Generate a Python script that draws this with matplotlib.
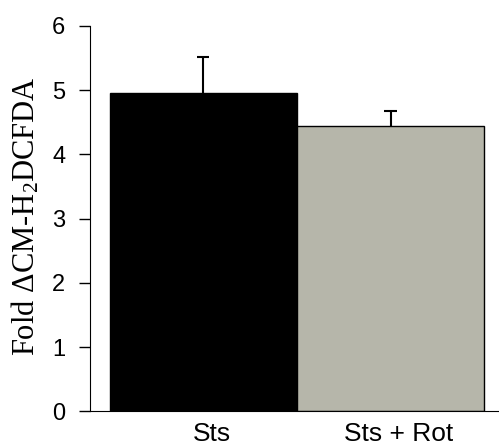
import matplotlib
matplotlib.use('Agg')
import matplotlib.pyplot as plt

# Дані
groups = ['Sts', 'Sts + Rot']
values = [4.96, 4.44]
errors = [0.55, 0.24]
colors = ['#000000', '#b6b6aa']

plt.rcParams['mathtext.fontset'] = 'custom'
plt.rcParams['mathtext.rm'] = 'Liberation Serif'
plt.rcParams['mathtext.it'] = 'Liberation Serif:italic'

fig = plt.figure(figsize=(4.99, 4.47), dpi=100)
ax = fig.add_axes([0.181, 0.080, 0.817, 0.862])

x = [0, 1]
ax.bar(x, values, width=1.0, color=colors, edgecolor='black', linewidth=1.0, zorder=2)

# тільки верхня похибка, без нижньої риски
tops = [v + e for v, e in zip(values, errors)]
ax.vlines(x, values, tops, color='black', linewidth=1.5, zorder=3)
ax.hlines(tops, [i - 0.033 for i in x], [i + 0.033 for i in x],
          color='black', linewidth=1.5, zorder=3)

ax.set_xlim(-0.603, 1.573)
ax.set_ylim(0, 6)
ax.set_yticks(range(0, 7))
# підписи трохи правіше центру стовпців, як в оригіналі
ax.set_xticks([i + 0.045 for i in x])
ax.set_xticklabels(groups, family='Liberation Sans', fontsize=19)
for lab in ax.get_yticklabels():
    lab.set_family('Liberation Sans')
    lab.set_fontsize(17)

ax.spines['top'].set_visible(False)
ax.spines['right'].set_visible(False)
ax.tick_params(axis='y', direction='out', length=8, width=1, pad=10)
ax.tick_params(axis='x', length=0, pad=8)

ax.set_ylabel('Fold \u0394CM-H$_\\mathrm{2}$DCFDA', family='Liberation Serif', fontsize=22)
ax.yaxis.set_label_coords(-0.12, 0.507)

plt.savefig('out.png', dpi=100)
